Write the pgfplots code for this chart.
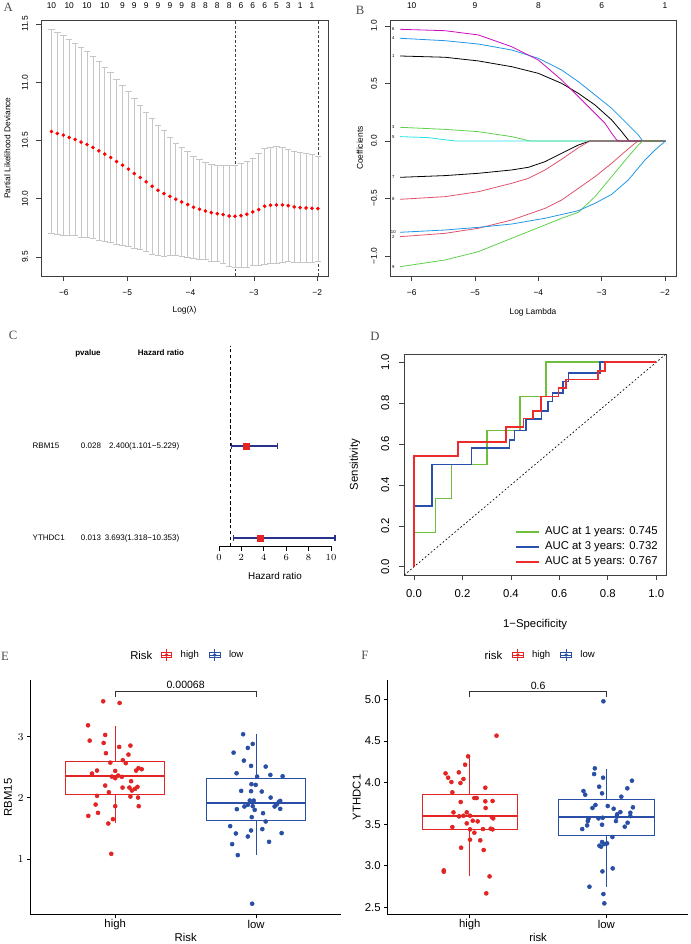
\documentclass[border=0pt]{standalone}
\usepackage{pgfplots}
\usepackage{pgfplotstable}
\pgfplotsset{compat=1.18}
\usepgfplotslibrary{statistics}
\usepackage{fontspec}
\setmainfont{Liberation Sans}
\newfontfamily\lserif{Liberation Serif}

\definecolor{eRed}{RGB}{226,36,36}
\definecolor{eBlue}{RGB}{40,78,165}
\definecolor{rRed}{RGB}{223,83,107}
\definecolor{rGreen}{RGB}{97,208,79}
\definecolor{rBlue}{RGB}{34,151,230}
\definecolor{rCyan}{RGB}{40,226,229}
\definecolor{rMag}{RGB}{205,11,188}
\definecolor{errGray}{RGB}{198,198,198}
\definecolor{rocGreen}{RGB}{110,192,60}
\definecolor{rocBlue}{RGB}{40,80,172}
\definecolor{rocRed}{RGB}{236,44,44}
\definecolor{fpBlue}{RGB}{40,50,140}
\definecolor{fpRed}{RGB}{230,35,35}

\newcommand\fA{\fontsize{6.3}{7.5}\selectfont}
\newcommand\fB{\fontsize{3.2}{3.8}\selectfont}
\newcommand\fCt{\fontsize{6}{7}\selectfont}
\newcommand\fCa{\fontsize{7.4}{8.8}\selectfont}
\newcommand\fD{\fontsize{8.5}{10}\selectfont}
\newcommand\fE{\fontsize{8.5}{10}\selectfont}
\newcommand\fEl{\fontsize{7.2}{8.5}\selectfont}
\newcommand\fP{\fontsize{7.9}{9.4}\selectfont}
\newcommand\fL{\lserif\fontsize{9.5}{11}\selectfont}

\pgfplotstableread{
x y e
-6.195 10.577 0.877
-6.102 10.560 0.868
-6.008 10.546 0.857
-5.915 10.526 0.842
-5.821 10.509 0.825
-5.728 10.486 0.814
-5.634 10.466 0.797
-5.541 10.440 0.779
-5.447 10.411 0.765
-5.354 10.383 0.745
-5.260 10.354 0.728
-5.167 10.319 0.708
-5.073 10.288 0.688
-4.980 10.254 0.665
-4.887 10.216 0.645
-4.793 10.182 0.619
-4.700 10.145 0.599
-4.606 10.107 0.582
-4.513 10.073 0.559
-4.419 10.044 0.539
-4.326 10.021 0.510
-4.232 9.996 0.479
-4.139 9.973 0.467
-4.045 9.950 0.453
-3.952 9.927 0.441
-3.858 9.910 0.430
-3.765 9.895 0.415
-3.672 9.881 0.415
-3.578 9.872 0.413
-3.485 9.864 0.421
-3.391 9.852 0.433
-3.298 9.850 0.441
-3.204 9.855 0.447
-3.111 9.867 0.453
-3.017 9.887 0.461
-2.924 9.907 0.481
-2.830 9.936 0.496
-2.737 9.944 0.501
-2.644 9.947 0.499
-2.550 9.947 0.490
-2.457 9.941 0.481
-2.363 9.930 0.479
-2.270 9.924 0.473
-2.176 9.921 0.467
-2.083 9.918 0.461
-1.989 9.915 0.450
}\cvtab

\pgfplotstableread{
x y ep em
2.400 100 2.829 1.299
3.693 8 6.660 2.375
}\hrtab

\pgfplotstableread{
x y
0.915 3.577
1.031 3.550
0.807 3.185
0.929 3.028
0.819 2.935
0.918 2.897
1.028 2.832
1.108 2.854
0.934 2.729
1.094 2.707
1.054 2.615
0.965 2.576
1.075 2.566
0.871 2.446
0.835 2.397
1.000 2.440
1.148 2.446
1.165 2.484
1.188 2.468
0.976 2.348
1.000 2.321
1.021 2.364
1.047 2.343
1.113 2.272
0.929 2.201
1.052 2.168
1.101 2.168
1.118 2.120
1.141 2.147
1.158 2.179
0.955 2.092
0.871 2.033
1.108 2.022
1.162 2.005
0.861 1.891
1.000 1.864
1.167 1.864
0.809 1.706
0.878 1.755
0.984 1.652
0.951 1.581
0.972 1.086
}\Ehigh

\pgfplotstableread{
x y
1.908 3.039
1.976 2.881
1.941 2.816
1.840 2.739
1.913 2.609
1.964 2.522
2.068 2.511
1.861 2.402
2.007 2.348
2.101 2.375
2.188 2.353
1.967 2.223
1.997 2.212
1.894 2.114
1.964 2.109
2.040 2.103
2.103 2.005
1.955 1.956
1.983 1.956
1.941 1.886
1.917 1.859
1.976 1.864
1.990 1.804
2.131 1.859
2.146 1.891
2.160 1.929
2.171 1.951
1.863 1.815
2.171 1.821
2.049 1.750
1.969 1.685
2.068 1.614
1.816 1.538
1.856 1.418
1.964 1.467
2.044 1.489
1.941 1.369
2.181 1.424
2.092 1.282
1.830 1.244
1.870 1.065
1.972 0.271
}\Elow

\pgfplotstableread{
x y
1.196 4.563
0.988 4.315
0.966 4.214
0.823 4.110
0.920 4.122
0.842 4.058
0.866 4.006
0.954 4.042
0.932 3.994
1.114 3.938
0.873 3.882
1.034 3.814
1.051 3.814
0.934 3.766
1.114 3.774
1.167 3.778
1.116 3.694
0.881 3.641
0.978 3.641
0.954 3.601
0.922 3.593
1.002 3.601
1.162 3.585
1.172 3.569
1.022 3.541
1.058 3.533
0.978 3.509
0.873 3.465
1.002 3.437
1.097 3.441
1.153 3.445
1.167 3.437
1.034 3.397
1.002 3.313
1.077 3.305
0.937 3.217
1.102 3.189
0.810 2.944
0.810 2.928
1.145 2.872
1.121 2.668
}\Fhigh

\pgfplotstableread{
x y
1.978 4.976
1.915 4.170
1.910 4.102
1.976 4.058
2.187 4.022
1.947 3.950
2.153 3.930
1.832 3.898
1.845 3.854
1.968 3.870
2.109 3.830
1.920 3.730
1.898 3.694
2.010 3.718
2.053 3.685
2.194 3.702
2.102 3.645
2.175 3.637
2.078 3.617
2.075 3.589
2.175 3.597
1.869 3.565
1.942 3.569
1.973 3.577
1.864 3.537
2.070 3.537
2.155 3.517
1.859 3.485
1.968 3.493
2.134 3.469
1.823 3.441
2.044 3.345
1.968 3.285
2.005 3.269
1.985 3.261
1.949 3.241
1.961 3.229
2.046 2.968
1.971 2.932
1.876 2.748
1.978 2.660
1.985 2.548
}\Flow

\pgfplotsset{
  rbox/.style={scale only axis, clip=false,
    axis line style={black!75, line width=0.55pt},
    tick style={black!75, line width=0.55pt},
    tick align=outside, major tick length=3.6pt, tick pos=left},
  gg/.style={scale only axis, clip=false,
    axis x line*=bottom, axis y line*=left,
    axis line style={black, line width=0.6pt},
    tick style={black, line width=0.6pt},
    tick align=outside, major tick length=2.6pt,
    xmin=0.4, xmax=2.6, xtick={1,2},
    xticklabel style={anchor=center, yshift=-5.1pt, font=\fE},
    yticklabel style={anchor=east, inner sep=0pt, xshift=-2.5pt, font=\fE},
    label style={font=\fE},
    xlabel style={at={(axis description cs:0.5,-0.099)}, anchor=center},
    boxplot/draw direction=y},
  ggbox/.style={forget plot, line width=0.6pt, boxplot/whisker extend=0,
    boxplot/every median/.style={line width=1.2pt}},
}

\begin{document}
\begin{tikzpicture}
\path[use as bounding box] (0,0) rectangle (518.25pt,-708pt);

% ---------------- A ----------------
\begin{axis}[rbox, at={(30.75pt,-207pt)}, anchor=south west, width=215.25pt, height=192pt,
  xmin=-6.36, xmax=-1.83, ymin=9.337, ymax=11.534,
  xtick={-6,-5,-4,-3,-2}, xticklabels={−6,−5,−4,−3,−2},
  ytick={9.5,10,10.5,11,11.5}, yticklabels={9.5,10.0,10.5,11.0,11.5},
  xticklabel style={anchor=center, yshift=-8.8pt, font=\fA},
  yticklabel style={anchor=center, xshift=-8.4pt, rotate=90, font=\fA},
  label style={font=\fA},
  xlabel={Log(λ)}, ylabel={Partial Likelihood Deviance},
  xlabel style={at={(axis description cs:0.5,-0.1328)}, anchor=center},
  ylabel style={at={(axis description cs:-0.1174,0.5)}, anchor=center}]
\addplot[black!75, dash pattern=on 2pt off 1.5pt, line width=0.5pt] coordinates {(-3.298,9.337)(-3.298,11.534)};
\addplot[black!75, dash pattern=on 2pt off 1.5pt, line width=0.5pt] coordinates {(-1.989,9.337)(-1.989,11.534)};
\addplot[only marks, mark=*, mark size=1.15pt, color=red,
  error bars/.cd, y dir=both, y explicit,
  error bar style={errGray, line width=0.5pt},
  error mark options={rotate=90, errGray, mark size=2.4pt, line width=0.5pt}]
  table[x=x, y=y, y error=e] {\cvtab};
\node[font=\fA] at (axis cs:-6.195,11.654) {10};
\node[font=\fA] at (axis cs:-5.915,11.654) {10};
\node[font=\fA] at (axis cs:-5.634,11.654) {10};
\node[font=\fA] at (axis cs:-5.354,11.654) {10};
\node[font=\fA] at (axis cs:-5.073,11.654) {9};
\node[font=\fA] at (axis cs:-4.887,11.654) {9};
\node[font=\fA] at (axis cs:-4.700,11.654) {9};
\node[font=\fA] at (axis cs:-4.513,11.654) {9};
\node[font=\fA] at (axis cs:-4.326,11.654) {9};
\node[font=\fA] at (axis cs:-4.139,11.654) {9};
\node[font=\fA] at (axis cs:-3.952,11.654) {8};
\node[font=\fA] at (axis cs:-3.765,11.654) {8};
\node[font=\fA] at (axis cs:-3.578,11.654) {8};
\node[font=\fA] at (axis cs:-3.391,11.654) {8};
\node[font=\fA] at (axis cs:-3.204,11.654) {6};
\node[font=\fA] at (axis cs:-3.017,11.654) {6};
\node[font=\fA] at (axis cs:-2.830,11.654) {6};
\node[font=\fA] at (axis cs:-2.644,11.654) {5};
\node[font=\fA] at (axis cs:-2.457,11.654) {3};
\node[font=\fA] at (axis cs:-2.270,11.654) {1};
\node[font=\fA] at (axis cs:-2.083,11.654) {1};
\end{axis}

% ---------------- B ----------------
\begin{axis}[rbox, at={(292.5pt,-207pt)}, anchor=south west, width=214.5pt, height=192pt,
  xmin=-6.343, xmax=-1.826, ymin=-1.174, ymax=1.052,
  xtick={-6,-5,-4,-3,-2}, xticklabels={−6,−5,−4,−3,−2},
  ytick={-1,-0.5,0,0.5,1}, yticklabels={−1.0,−0.5,0.0,0.5,1.0},
  xticklabel style={anchor=center, yshift=-8.8pt, font=\fA},
  yticklabel style={anchor=center, xshift=-8.4pt, rotate=90, font=\fA},
  label style={font=\fA},
  xlabel={Log Lambda}, ylabel={Coefficients},
  xlabel style={at={(axis description cs:0.5,-0.1406)}, anchor=center},
  ylabel style={at={(axis description cs:-0.105,0.5)}, anchor=center}]
\addplot[black, line width=0.6pt] coordinates {(-6.184,0.739)(-5.474,0.728)(-4.947,0.696)(-4.421,0.646)(-4.0,0.588)(-3.632,0.501)(-3.368,0.414)(-3.105,0.313)(-2.842,0.183)(-2.684,0.081)(-2.568,0)(-1.99,0)};
\addplot[rRed, line width=0.6pt] coordinates {(-6.184,-0.832)(-5.474,-0.803)(-4.947,-0.759)(-4.421,-0.687)(-3.895,-0.586)(-3.632,-0.513)(-3.368,-0.412)(-3.105,-0.310)(-2.842,-0.194)(-2.632,-0.093)(-2.474,-0.020)(-2.421,0)(-1.99,0)};
\addplot[rGreen, line width=0.6pt] coordinates {(-6.184,0.119)(-5.474,0.101)(-4.947,0.081)(-4.421,0.038)(-4.132,0)(-1.99,0)};
\addplot[rBlue, line width=0.6pt] coordinates {(-6.184,0.893)(-5.474,0.872)(-4.947,0.843)(-4.421,0.791)(-4.0,0.719)(-3.632,0.617)(-3.368,0.516)(-3.105,0.400)(-2.842,0.284)(-2.684,0.197)(-2.526,0.110)(-2.421,0.052)(-2.353,0)(-1.99,0)};
\addplot[rCyan, line width=0.6pt] coordinates {(-6.184,0.038)(-5.737,0.029)(-5.316,0)(-1.99,0)};
\addplot[rMag, line width=0.6pt] coordinates {(-6.184,0.971)(-5.474,0.959)(-4.947,0.922)(-4.421,0.820)(-4.0,0.704)(-3.632,0.530)(-3.368,0.386)(-3.158,0.270)(-2.947,0.154)(-2.842,0.067)(-2.763,0.009)(-2.737,0)(-1.99,0)};
\addplot[black, line width=0.6pt] coordinates {(-6.184,-0.316)(-5.474,-0.301)(-4.947,-0.281)(-4.421,-0.252)(-4.158,-0.229)(-3.895,-0.180)(-3.632,-0.107)(-3.368,-0.035)(-3.184,0)(-1.99,0)};
\addplot[rRed, line width=0.6pt] coordinates {(-6.184,-0.507)(-5.474,-0.484)(-4.947,-0.441)(-4.421,-0.368)(-4.158,-0.325)(-3.895,-0.252)(-3.632,-0.159)(-3.368,-0.058)(-3.184,0)(-1.99,0)};
\addplot[rGreen, line width=0.6pt] coordinates {(-6.184,-1.093)(-5.474,-1.035)(-4.947,-0.962)(-4.421,-0.846)(-3.895,-0.730)(-3.632,-0.672)(-3.368,-0.620)(-3.105,-0.484)(-2.842,-0.310)(-2.579,-0.136)(-2.421,-0.035)(-2.353,0)(-1.99,0)};
\addplot[rBlue, line width=0.6pt] coordinates {(-6.184,-0.794)(-5.474,-0.774)(-4.947,-0.751)(-4.421,-0.722)(-3.895,-0.672)(-3.368,-0.606)(-3.105,-0.542)(-2.842,-0.464)(-2.579,-0.339)(-2.316,-0.165)(-2.158,-0.078)(-1.99,0)};
\node[font=\fB] at (axis cs:-6.29,0.971) {6};
\node[font=\fB] at (axis cs:-6.29,0.893) {4};
\node[font=\fB] at (axis cs:-6.29,0.739) {1};
\node[font=\fB] at (axis cs:-6.29,0.119) {3};
\node[font=\fB] at (axis cs:-6.29,0.038) {5};
\node[font=\fB] at (axis cs:-6.29,-0.316) {7};
\node[font=\fB] at (axis cs:-6.29,-0.507) {8};
\node[font=\fB] at (axis cs:-6.29,-0.79) {10};
\node[font=\fB] at (axis cs:-6.29,-0.836) {2};
\node[font=\fB] at (axis cs:-6.29,-1.093) {9};
\node[font=\fA] at (axis cs:-6,1.174) {10};
\node[font=\fA] at (axis cs:-5,1.174) {9};
\node[font=\fA] at (axis cs:-4,1.174) {8};
\node[font=\fA] at (axis cs:-3,1.174) {6};
\node[font=\fA] at (axis cs:-2,1.174) {1};
\end{axis}

% ---------------- C ----------------
\begin{axis}[scale only axis, clip=false, at={(164.25pt,-409.5pt)}, anchor=south west, width=84pt, height=150pt,
  xmin=0, xmax=10, ymin=0, ymax=200, axis x line*=bottom, axis y line=none,
  axis line style={black, line width=0.6pt}, tick style={black, line width=0.6pt},
  tick align=outside, major tick length=3.5pt,
  xtick={0,2,4,6,8,10},
  xticklabel style={anchor=center, yshift=-5.3pt, font=\fCa},
  xlabel={Hazard ratio}, xlabel style={at={(axis description cs:0.5,-0.15)}, anchor=center, font=\fCa}]
\addplot[black, line width=1pt, dash pattern=on 2.6pt off 1.8pt] coordinates {(1,0)(1,200)};
\addplot[only marks, mark=square*, mark size=2.2pt, color=fpRed,
  error bars/.cd, x dir=both, x explicit,
  error bar style={fpBlue, line width=0.9pt},
  error mark options={rotate=90, fpBlue, mark size=2pt, line width=0.9pt}]
  table[x=x, y=y, x error plus=ep, x error minus=em] {\hrtab};
\end{axis}

% ---------------- D ----------------
\begin{axis}[rbox, at={(303.2pt,-431.25pt)}, anchor=south west, width=196.3pt, height=165.75pt,
  xmin=-0.04, xmax=1.04, ymin=-0.04, ymax=1.04,
  xtick={0,0.2,0.4,0.6,0.8,1}, xticklabels={0.0,0.2,0.4,0.6,0.8,1.0},
  ytick={0,0.2,0.4,0.6,0.8,1}, yticklabels={0.0,0.2,0.4,0.6,0.8,1.0},
  xticklabel style={anchor=center, yshift=-10.5pt, font=\fD},
  yticklabel style={anchor=center, xshift=-10.7pt, rotate=90, font=\fD},
  label style={font=\fD},
  xlabel={1−Specificity}, ylabel={Sensitivity},
  xlabel style={at={(axis description cs:0.5,-0.226)}, anchor=center},
  ylabel style={at={(axis description cs:-0.188,0.5)}, anchor=center},
  legend style={at={(axis description cs:0.423,0.226)}, anchor=north west, draw=none, fill=none,
    font=\fD, inner sep=0pt, row sep=1.4pt, nodes={inner sep=1.2pt},
    /tikz/every odd column/.append style={column sep=3pt}},
  legend cell align=left,
  legend image code/.code={\draw[#1] (0pt,0pt) -- (17pt,0pt);}]
\addplot[black, line width=0.5pt, dash pattern=on 1.3pt off 1.6pt, forget plot] coordinates {(-0.04,-0.04)(1.04,1.04)};
\addplot[rocGreen, line width=1.2pt] coordinates {(0,0)(0,0.167)(0.089,0.167)(0.089,0.333)(0.155,0.333)(0.155,0.5)(0.301,0.5)(0.301,0.667)(0.438,0.667)(0.438,0.833)(0.544,0.833)(0.544,1)(1,1)};
\addlegendentry{AUC at 1 years: 0.745}
\addplot[rocBlue, line width=1.2pt] coordinates {(0,0)(0,0.297)(0.075,0.297)(0.075,0.5)(0.237,0.5)(0.237,0.58)(0.395,0.58)(0.395,0.621)(0.415,0.621)(0.415,0.667)(0.463,0.667)(0.463,0.722)(0.527,0.722)(0.527,0.76)(0.552,0.76)(0.552,0.807)(0.571,0.807)(0.571,0.85)(0.616,0.85)(0.616,0.905)(0.637,0.905)(0.637,0.948)(0.767,0.948)(0.767,1)(1,1)};
\addlegendentry{AUC at 3 years: 0.732}
\addplot[rocRed, line width=1.2pt] coordinates {(0,0)(0,0.542)(0.182,0.542)(0.182,0.611)(0.379,0.611)(0.379,0.683)(0.452,0.683)(0.452,0.724)(0.490,0.724)(0.490,0.760)(0.523,0.760)(0.523,0.833)(0.596,0.833)(0.596,0.874)(0.627,0.874)(0.627,0.915)(0.760,0.915)(0.760,0.956)(0.788,0.956)(0.788,1)(1,1)};
\addlegendentry{AUC at 5 years: 0.767}
\end{axis}

% ---------------- E ----------------
\begin{axis}[gg, at={(23pt,-686pt)}, anchor=south west, width=232.5pt, height=176pt,
  ymin=0.092, ymax=3.925, ytick={1,2,3},
  xticklabels={high,low}, xlabel={Risk}, ylabel={RBM15},
  ylabel style={at={(axis description cs:-0.073,0.5)}, anchor=center},
  legend columns=2,
  legend style={at={(axis description cs:0.4187,1.1065)}, anchor=west, draw=none, fill=none,
    font=\fEl, inner sep=0pt, nodes={inner sep=0pt},
    /tikz/every odd column/.append style={column sep=6.4pt},
    /tikz/every even column/.append style={column sep=7.6pt}}]
\addplot[ggbox, eRed,
  boxplot prepared={draw position=1, lower whisker=1.587, lower quartile=2.049, median=2.359, upper quartile=2.598, upper whisker=3.174, box extend=0.7}] coordinates {};
\addplot[ggbox, eBlue,
  boxplot prepared={draw position=2, lower whisker=1.060, lower quartile=1.630, median=1.918, upper quartile=2.315, upper whisker=3.038, box extend=0.7}] coordinates {};
\addplot[only marks, mark=*, mark size=1.5pt, color=eRed,
  legend image code/.code={\draw[eRed, line width=0.6pt] (0pt,-4.3pt) -- (0pt,4.3pt); \draw[eRed, line width=0.6pt, fill=white] (-4pt,-2.1pt) rectangle (4pt,2.1pt); \draw[eRed, line width=0.6pt] (-4pt,0pt) -- (4pt,0pt); \fill[eRed] (0pt,0pt) circle (1.1pt);}]
  table[x=x, y=y] {\Ehigh};
\addlegendentry{high}
\addplot[only marks, mark=*, mark size=1.5pt, color=eBlue,
  legend image code/.code={\draw[eBlue, line width=0.6pt] (0pt,-4.3pt) -- (0pt,4.3pt); \draw[eBlue, line width=0.6pt, fill=white] (-4pt,-2.1pt) rectangle (4pt,2.1pt); \draw[eBlue, line width=0.6pt] (-4pt,0pt) -- (4pt,0pt); \fill[eBlue] (0pt,0pt) circle (1.1pt);}]
  table[x=x, y=y] {\Elow};
\addlegendentry{low}
\addplot[black!80, line width=0.55pt, forget plot] coordinates {(1,3.64)(1,3.745)(2,3.745)(2,3.64)};
\node[font=\fP] at (axis cs:1.5,3.842) {0.00068};
\end{axis}

% ---------------- F ----------------
\begin{axis}[gg, at={(290.8pt,-686pt)}, anchor=south west, width=225.5pt, height=176pt,
  ymin=2.412, ymax=5.232, ytick={2.5,3,3.5,4,4.5,5}, yticklabels={2.5,3.0,3.5,4.0,4.5,5.0},
  xticklabels={high,low}, xlabel={risk}, ylabel={YTHDC1},
  ylabel style={at={(axis description cs:-0.103,0.5)}, anchor=center},
  legend columns=2,
  legend style={at={(axis description cs:0.4128,1.1065)}, anchor=west, draw=none, fill=none,
    font=\fEl, inner sep=0pt, nodes={inner sep=0pt},
    /tikz/every odd column/.append style={column sep=6.4pt},
    /tikz/every even column/.append style={column sep=7.6pt}}]
\addplot[ggbox, eRed,
  boxplot prepared={draw position=1, lower whisker=2.877, lower quartile=3.437, median=3.598, upper quartile=3.862, upper whisker=4.331, box extend=0.7}] coordinates {};
\addplot[ggbox, eBlue,
  boxplot prepared={draw position=2, lower whisker=2.748, lower quartile=3.361, median=3.586, upper quartile=3.802, upper whisker=4.163, box extend=0.7}] coordinates {};
\addplot[only marks, mark=*, mark size=1.5pt, color=eRed,
  legend image code/.code={\draw[eRed, line width=0.6pt] (0pt,-4.3pt) -- (0pt,4.3pt); \draw[eRed, line width=0.6pt, fill=white] (-4pt,-2.1pt) rectangle (4pt,2.1pt); \draw[eRed, line width=0.6pt] (-4pt,0pt) -- (4pt,0pt); \fill[eRed] (0pt,0pt) circle (1.1pt);}]
  table[x=x, y=y] {\Fhigh};
\addlegendentry{high}
\addplot[only marks, mark=*, mark size=1.5pt, color=eBlue,
  legend image code/.code={\draw[eBlue, line width=0.6pt] (0pt,-4.3pt) -- (0pt,4.3pt); \draw[eBlue, line width=0.6pt, fill=white] (-4pt,-2.1pt) rectangle (4pt,2.1pt); \draw[eBlue, line width=0.6pt] (-4pt,0pt) -- (4pt,0pt); \fill[eBlue] (0pt,0pt) circle (1.1pt);}]
  table[x=x, y=y] {\Flow};
\addlegendentry{low}
\addplot[black!80, line width=0.55pt, forget plot] coordinates {(1,5.024)(1,5.10)(2,5.10)(2,5.024)};
\node[font=\fP] at (axis cs:1.5,5.164) {0.6};
\end{axis}

% ---------------- texts ----------------
\begin{scope}[x=0.75pt, y=-0.75pt]
\node[font=\fL, text=black!70] at (8.3,7.3) {A};
\node[font=\fL, text=black!70] at (360,10.7) {B};
\node[font=\fL, text=black!70] at (13,335) {C};
\node[font=\fL, text=black!70] at (375,336) {D};
\node[font=\fL, text=black!70] at (5,656) {E};
\node[font=\fL, text=black!70] at (365,655) {F};
\node[font=\fCt\bfseries] at (88,353) {pvalue};
\node[font=\fCt\bfseries] at (161,353) {Hazard ratio};
\node[font=\fCt, anchor=west] at (28,446) {RBM15};
\node[font=\fCt] at (91,446) {0.028};
\node[font=\fCt, anchor=east] at (184,446) {2.400(1.101−5.229)};
\node[font=\fCt, anchor=west] at (28,538) {YTHDC1};
\node[font=\fCt] at (91,538) {0.013};
\node[font=\fCt, anchor=east] at (184,538) {3.693(1.318−10.353)};
\node[font=\fE, anchor=west, inner sep=0pt] at (130,655) {Risk};
\node[font=\fE, anchor=west, inner sep=0pt] at (484.3,655) {risk};
\end{scope}
\end{tikzpicture}
\end{document}
